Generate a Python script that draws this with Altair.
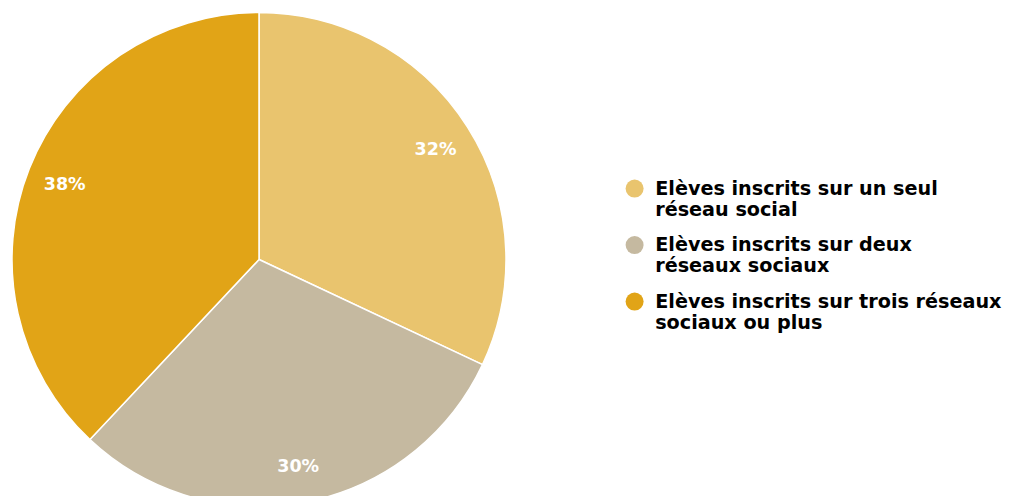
import altair as alt
import pandas as pd

categories = [
    "Elèves inscrits sur un seul\nréseau social",
    "Elèves inscrits sur deux\nréseaux sociaux",
    "Elèves inscrits sur trois réseaux\nsociaux ou plus",
]
values = [32, 30, 38]
labels = ["32%", "30%", "38%"]
colors = ["#E9C46E", "#C5B9A0", "#E1A417"]
order = [0, 1, 2]

df = pd.DataFrame({"cat": categories, "value": values, "label": labels, "order": order})

cx, cy, R = 251, 251.5, 247

base = alt.Chart(df).encode(
    theta=alt.Theta("value:Q", stack=True),
    order=alt.Order("order:Q"),
)

pie = base.mark_arc(radius=R, stroke="white", strokeWidth=1.5).encode(
    color=alt.Color(
        "cat:N",
        scale=alt.Scale(domain=categories, range=colors),
        sort=categories,
        legend=alt.Legend(
            title=None,
            orient="none",
            legendX=617,
            legendY=171,
            symbolType="circle",
            symbolSize=324,
            symbolStrokeWidth=0,
            labelFont="DejaVu Sans",
            labelFontWeight="bold",
            labelFontSize=19.2,
            labelColor="black",
            labelLimit=0,
            labelOffset=11,
            labelBaseline="middle",
            rowPadding=15.5,
            padding=0,
            labelExpr="split(datum.label, '\\n')",
        ),
    ),
    x=alt.value(cx),
    y=alt.value(cy),
)

text = base.mark_text(
    radius=209, dy=2, font="DejaVu Sans", fontWeight="bold", fontSize=17.5, color="white"
).encode(text="label:N", x=alt.value(cx), y=alt.value(cy))

chart = (
    alt.layer(pie, text)
    .properties(width=995, height=488, autosize=alt.AutoSizeParams(type="none"), padding=0, background="white")
    .configure_view(stroke=None)
)

chart.save("out.html", embed_options={"renderer": "svg", "actions": False})
